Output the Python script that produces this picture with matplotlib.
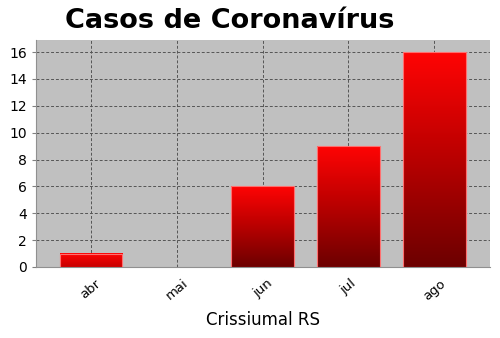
import matplotlib
matplotlib.use("Agg")
import matplotlib.pyplot as plt
import numpy as np
from matplotlib.colors import LinearSegmentedColormap

# dados
meses = ["abr", "mai", "jun", "jul", "ago"]
casos = [1, 0, 6, 9, 16]

fig = plt.figure(figsize=(5, 3.38), dpi=100)
ax = fig.add_axes([36 / 500, 1 - 267 / 338, 454 / 500, 227 / 338])
ax.set_facecolor("#c0c0c0")

x = np.arange(len(meses))
largura = 0.73
bars = ax.bar(x, casos, width=largura, color="none", edgecolor="none", zorder=3)

# gradiente vermelho em cada barra (claro em cima, escuro embaixo)
cmap = LinearSegmentedColormap.from_list("verm", ["#6c0000", "#b80000", "#ff0404"])
for b in bars:
    h = b.get_height()
    if h <= 0:
        continue
    x0 = b.get_x()
    w = b.get_width()
    inicio = max(0.0, 1 - h / 2.5)  # barra baixa nao chega no escuro
    grad = np.linspace(inicio, 1, 256).reshape(-1, 1)
    ax.imshow(grad, cmap=cmap, vmin=0, vmax=1, aspect="auto", origin="lower",
              extent=[x0, x0 + w, 0, h], zorder=3)
    ax.add_patch(plt.Rectangle((x0, 0), w, h, fill=False,
                               edgecolor="#ff7070", lw=0.8, zorder=4))

ax.set_xlim(-0.64, 4.65)
ax.set_ylim(0, 16.9)
ax.set_yticks(range(0, 17, 2))
ax.set_xticks(x)
ax.set_xticklabels(meses, rotation=40, fontsize=9.5)
ax.tick_params(axis="y", labelsize=10, length=3, color="#808080")
ax.tick_params(axis="x", length=0, pad=7)
ax.grid(True, color="#555555", linestyle=(0, (3, 2)), linewidth=0.7, zorder=1)
ax.set_axisbelow(True)
for s in ax.spines.values():
    s.set_color("#909090")
ax.spines["top"].set_visible(False)
ax.spines["right"].set_visible(False)

ax.set_xlabel("Crissiumal RS", fontsize=12, labelpad=6)
fig.text(0.459, 0.938, "Casos de Coronavírus", fontsize=19.5, fontweight="bold",
         ha="center", va="center")

fig.savefig("out.png", dpi=100)
